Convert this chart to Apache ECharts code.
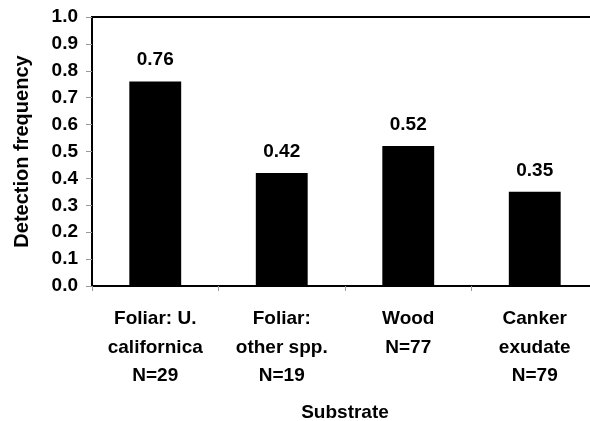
<!DOCTYPE html>
<html>
<head>
<meta charset="utf-8">
<script src="https://cdn.jsdelivr.net/npm/echarts@6/dist/echarts.min.js"></script>
<style>
  html, body { margin: 0; padding: 0; background: #fff; }
  #chart { width: 590px; height: 421px; }
</style>
</head>
<body>
<div id="chart"></div>
<script>
const categories = [
  'Foliar: U.\ncalifornica\nN=29',
  'Foliar:\nother spp.\nN=19',
  'Wood\nN=77',
  'Canker\nexudate\nN=79'
];
const detectionFrequency = [0.76, 0.42, 0.52, 0.35];
const yTicks = [0, 1, 0.1]; // min, max, interval

const font = 'Liberation Sans, Arial, sans-serif';
const fs = 19;

const chart = echarts.init(document.getElementById('chart'));

chart.setOption({
  animation: false,
  grid: {
    left: 92,
    top: 17,
    right: -8,
    bottom: 135,
    outerBoundsMode: 'none',
    containLabel: false,
    show: true,
    borderColor: '#000',
    borderWidth: 2,
    backgroundColor: '#fff'
  },
  xAxis: {
    type: 'category',
    data: categories,
    name: 'Substrate',
    nameLocation: 'middle',
    nameGap: 117,
    nameTextStyle: {
      fontFamily: font,
      fontWeight: 'bold',
      fontSize: fs,
      color: '#000',
      verticalAlign: 'top'
    },
    axisLine: { lineStyle: { color: '#000', width: 2 } },
    axisTick: { show: true, length: 5, lineStyle: { color: '#999', width: 1 } },
    axisLabel: {
      fontFamily: font,
      fontWeight: 'bold',
      fontSize: fs,
      color: '#000',
      lineHeight: 28.5,
      margin: 19,
      align: 'center'
    }
  },
  yAxis: {
    type: 'value',
    min: yTicks[0],
    max: yTicks[1],
    interval: yTicks[2],
    name: 'Detection frequency',
    nameLocation: 'middle',
    nameGap: 60,
    nameTextStyle: {
      fontFamily: font,
      fontWeight: 'bold',
      fontSize: 20,
      color: '#000'
    },
    splitLine: { show: false },
    axisLine: { show: true, lineStyle: { color: '#000', width: 2 } },
    axisTick: { show: true, length: 6, lineStyle: { color: '#999', width: 1 } },
    axisLabel: {
      fontFamily: font,
      fontWeight: 'bold',
      fontSize: fs,
      color: '#000',
      margin: 14,
      formatter: v => v.toFixed(1)
    }
  },
  series: [
    {
      type: 'bar',
      data: detectionFrequency,
      barWidth: '41%',
      itemStyle: { color: '#000' },
      label: {
        show: true,
        position: 'top',
        distance: 12,
        fontFamily: font,
        fontWeight: 'bold',
        fontSize: fs,
        color: '#000',
        formatter: p => p.value.toFixed(2)
      }
    }
  ]
});
</script>
</body>
</html>
